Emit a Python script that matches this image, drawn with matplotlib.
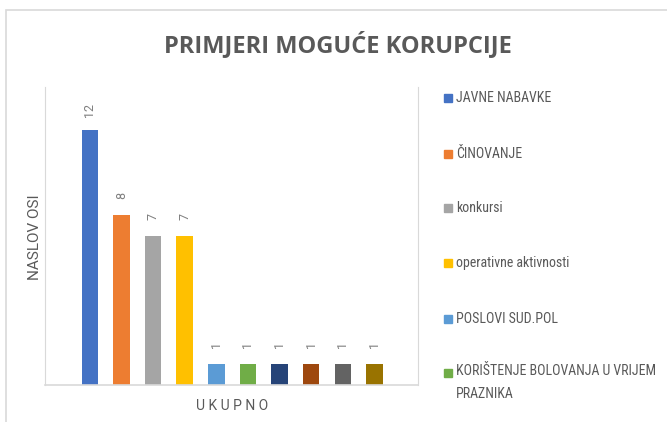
import matplotlib
matplotlib.use("Agg")
import matplotlib.pyplot as plt
from matplotlib.patches import Rectangle

plt.rcParams['font.family'] = ['Roboto', 'DejaVu Sans']

# data
categories = ['JAVNE NABAVKE', 'ČINOVANJE', 'konkursi', 'operativne aktivnosti',
              'POSLOVI SUD.POL', 'KORIŠTENJE BOLOVANJA U VRIJEM\nPRAZNIKA',
              '', '', '', '']
values = [12, 8, 7, 7, 1, 1, 1, 1, 1, 1]
colors = ['#4472C4', '#ED7D31', '#A5A5A5', '#FFC000', '#5B9BD5',
          '#70AD47', '#264478', '#9E480E', '#636363', '#997300']
n_legend = 6  # only these are visible in the cut-off legend

title = 'PRIMJERI MOGUĆE KORUPCIJE'
xlabel = 'U K U P N O'
ylabel = 'NASLOV OSI'

W, H = 667, 422
fig = plt.figure(figsize=(W / 100, H / 100), dpi=100)

# chart area border (runs off the right/bottom edge)
fig.patches.append(Rectangle((6 / W, -0.1), 1.2, 1 - 10 / H + 0.1,
                             transform=fig.transFigure, fill=False,
                             edgecolor='#d9d9d9', lw=1.2))

ax = fig.add_axes([45 / W, 1 - 385 / H, (418 - 45) / W, (385 - 87) / H])
bars = ax.bar(range(len(values)), values, width=0.52, color=colors)
for b, v in zip(bars, values):
    ax.annotate(str(v), (b.get_x() + b.get_width() / 2, v), xytext=(0, 14),
                textcoords='offset points', rotation=90, ha='center', va='center',
                fontsize=9, color='#7f7f7f')

ax.set_xlim(-1.42, len(values) - 1 + 1.38)
ax.set_ylim(0, 14)
ax.set_xticks([])
ax.set_yticks([])
ax.spines['top'].set_visible(False)
for s in ['left', 'right', 'bottom']:
    ax.spines[s].set_color('#d9d9d9')
ax.spines['bottom'].set_linewidth(1.2)

fig.text(232 / W, 1 - 406 / H, xlabel, ha='center', va='center',
         fontsize=10, color='#595959')
fig.text(35 / W, 1 - 237 / H, ylabel, ha='center', va='center', rotation=90,
         fontsize=11, color='#595959')
fig.text(338 / W, 1 - 45 / H, title, ha='center', va='center', fontsize=17,
         fontweight='bold', color='#595959', family=['Open Sans', 'DejaVu Sans'])

# legend, drawn by hand to match the spacing
leg_fam = ['Roboto Condensed', 'Roboto', 'DejaVu Sans']
leg_y = [98, 154, 208, 263, 319, 373]
for lab, col, y in zip(categories[:n_legend], colors[:n_legend], leg_y):
    fig.patches.append(Rectangle((444 / W, 1 - (y + 4) / H), 8 / W, 8 / H,
                                 transform=fig.transFigure, color=col))
    if '\n' in lab:
        fig.text(456 / W, 1 - (y - 9) / H, lab, ha='left', va='top',
                 fontsize=10, color='#595959', linespacing=1.8, family=leg_fam)
    else:
        fig.text(456 / W, 1 - y / H, lab, ha='left', va='center',
                 fontsize=10, color='#595959', family=leg_fam)

fig.savefig('out.png', dpi=100)
